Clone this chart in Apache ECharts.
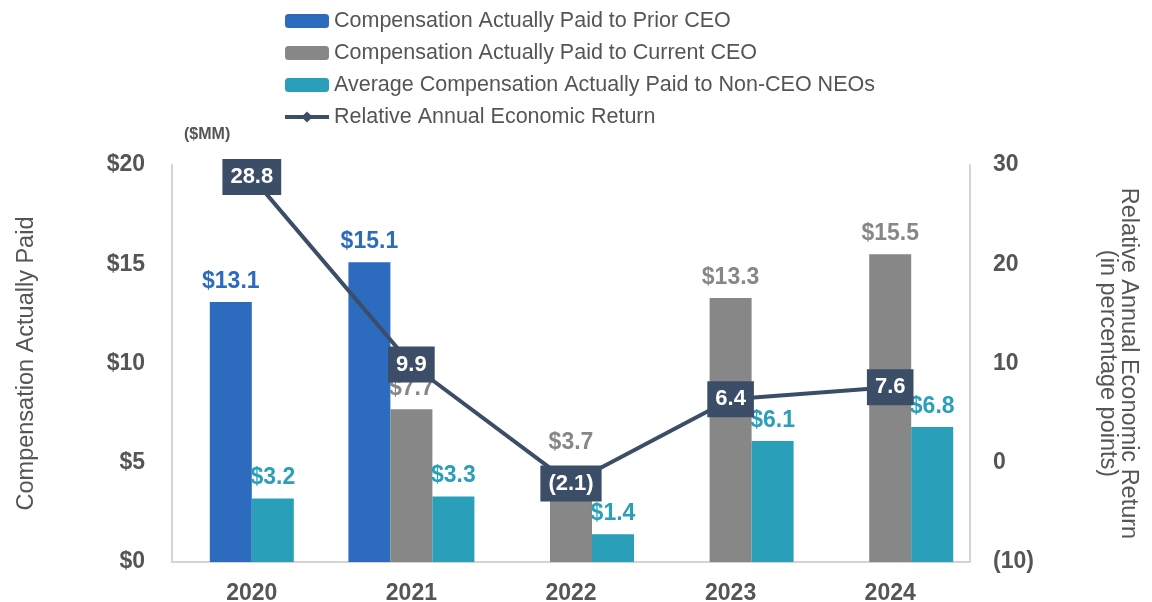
<!DOCTYPE html>
<html>
<head>
<meta charset="utf-8">
<script src="https://cdn.jsdelivr.net/npm/echarts@6/dist/echarts.min.js"></script>
<style>
  html, body { margin: 0; padding: 0; background: #fff; }
  #main { width: 1152px; height: 602px; }
</style>
</head>
<body>
<div id="main"></div>
<script>
const years = ['2020', '2021', '2022', '2023', '2024'];
const priorCeo = [13.1, 15.1, null, null, null];
const currentCeo = [null, 7.7, 3.7, 13.3, 15.5];
const neoAvg = [3.2, 3.3, 1.4, 6.1, 6.8];
const relReturn = [28.8, 9.9, -2.1, 6.4, 7.6];

const leftTicks = [0, 5, 10, 15, 20];
const rightTicks = [-10, 0, 10, 20, 30];

const FONT = '"Liberation Sans", Arial, sans-serif';
const BLUE = '#2d6bbf';
const GRAY = '#878787';
const TEAL = '#2a9fb9';
const NAVY = '#3c4d68';
const TXT = '#555555';

// years with no current CEO bar: the two remaining bars sit side by side
const paired = currentCeo.map(v => v == null);
const onMain = arr => arr.map((v, i) => (paired[i] ? null : v));
const onSide = arr => arr.map((v, i) => (paired[i] ? v : null));

// lift the 2022 current CEO label clear of the return label box
const liftCurrent = { '2022': 34 };

function barLabel(color) {
    return {
        show: true,
        position: 'top',
        distance: 9,
        color: color,
        fontFamily: FONT,
        fontSize: 23,
        fontWeight: 'bold',
        formatter: p => '$' + p.value.toFixed(1)
    };
}

function bar(name, data, color, axis) {
    return {
        name: name,
        type: 'bar',
        xAxisIndex: axis,
        yAxisIndex: 0,
        data: data,
        barWidth: 42,
        barGap: '0%',
        itemStyle: { color: color },
        label: barLabel(color)
    };
}

const N1 = 'Compensation Actually Paid to Prior CEO';
const N2 = 'Compensation Actually Paid to Current CEO';
const N3 = 'Average Compensation Actually Paid to Non-CEO NEOs';
const N4 = 'Relative Annual Economic Return';

const currentData = onMain(currentCeo).map((v, i) =>
    liftCurrent[years[i]] ? { value: v, label: { distance: liftCurrent[years[i]] } } : v);

const chart = echarts.init(document.getElementById('main'));
chart.setOption({
    animation: false,
    textStyle: { fontFamily: FONT },
    legend: {
        orient: 'vertical',
        left: 278,
        top: 5,
        itemWidth: 44,
        itemHeight: 14,
        itemGap: 10,
        data: [N1, N2, N3, { name: N4, lineStyle: { width: 4 } }],
        textStyle: { color: TXT, fontSize: 21.5, fontFamily: FONT }
    },
    grid: { left: 172, right: 182, top: 165, bottom: 40, outerBoundsMode: 'none' },
    graphic: [{
        type: 'text',
        left: 184,
        top: 127,
        style: { text: '($MM)', fill: TXT, font: 'bold 16px ' + FONT }
    }],
    xAxis: [{
        type: 'category',
        data: years,
        axisLine: { lineStyle: { color: '#d4d4d4', width: 2 } },
        axisTick: { show: false },
        axisLabel: { color: TXT, fontSize: 23, fontWeight: 'bold', margin: 20, fontFamily: FONT }
    }, {
        type: 'category',
        data: years,
        show: false
    }],
    yAxis: [{
        type: 'value',
        min: leftTicks[0],
        max: leftTicks[leftTicks.length - 1],
        interval: 5,
        name: 'Compensation Actually Paid',
        nameLocation: 'middle',
        nameGap: 133,
        nameTextStyle: { color: TXT, fontSize: 23.5, fontFamily: FONT },
        axisLine: { show: true, lineStyle: { color: '#d4d4d4', width: 2 } },
        axisTick: { show: false },
        splitLine: { show: false },
        axisLabel: {
            color: TXT, fontSize: 23, fontWeight: 'bold', margin: 27, fontFamily: FONT,
            formatter: v => '$' + v
        }
    }, {
        type: 'value',
        min: rightTicks[0],
        max: rightTicks[rightTicks.length - 1],
        interval: 10,
        name: 'Relative Annual Economic Return\n(in percentage points)',
        nameLocation: 'middle',
        nameGap: 127,
        nameRotate: -90,
        nameTextStyle: { color: TXT, fontSize: 23.5, fontFamily: FONT, lineHeight: 21 },
        axisLine: { show: true, lineStyle: { color: '#d4d4d4', width: 2 } },
        axisTick: { show: false },
        splitLine: { show: false },
        axisLabel: {
            color: TXT, fontSize: 23, fontWeight: 'bold', margin: 23, fontFamily: FONT,
            formatter: v => (v < 0 ? '(' + Math.abs(v) + ')' : String(v))
        }
    }],
    series: [
        bar(N1, onMain(priorCeo), BLUE, 0),
        bar(N2, currentData, GRAY, 0),
        bar(N3, onMain(neoAvg), TEAL, 0),
        bar(N1, onSide(priorCeo), BLUE, 1),
        bar(N3, onSide(neoAvg), TEAL, 1),
        {
            name: N4,
            type: 'line',
            xAxisIndex: 0,
            yAxisIndex: 1,
            data: relReturn,
            z: 10,
            symbol: 'diamond',
            symbolSize: 8,
            itemStyle: { color: NAVY },
            lineStyle: { color: NAVY, width: 4 },
            label: {
                show: true,
                position: 'inside',
                color: '#fff',
                backgroundColor: NAVY,
                padding: [8, 8, 6, 8],
                fontFamily: FONT,
                fontSize: 22,
                fontWeight: 'bold',
                formatter: p => (p.value < 0 ? '(' + Math.abs(p.value).toFixed(1) + ')' : p.value.toFixed(1))
            }
        }
    ]
});
</script>
</body>
</html>
